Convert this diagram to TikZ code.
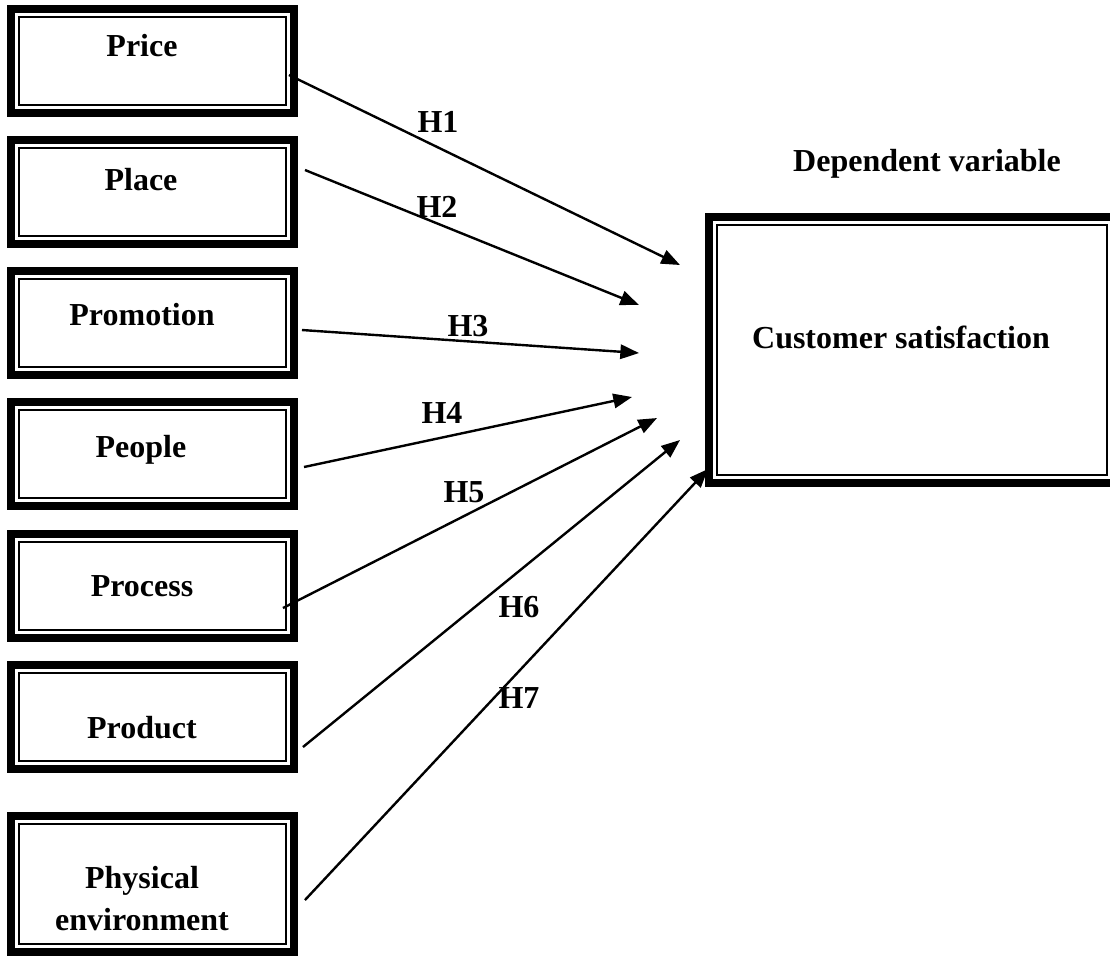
\documentclass[tikz,border=0pt]{standalone}
\usepackage{fontspec}
\setmainfont{Liberation Serif}
\usetikzlibrary{arrows.meta}

\begin{document}
\begin{tikzpicture}[
    x=0.375pt, y=-0.375pt,
    box/.style={draw, line width=3pt, minimum width=106.1pt, minimum height=39pt, inner sep=0pt,
                path picture={\draw[line width=0.75pt]
                    ([shift={(3pt,-3pt)}]path picture bounding box.north west) rectangle
                    ([shift={(-3pt,3pt)}]path picture bounding box.south east);}},
    lbl/.style={font=\fontsize{12}{15.75}\selectfont\bfseries, align=center, inner sep=0pt},
    arrow/.style={-{Triangle[length=7pt, width=5.4pt]}, line width=0.9pt}
]
    \useasboundingbox (0,0) rectangle (1110,960);
    \clip (0,0) rectangle (1110,960);

    % Independent variables
    \node[box] (price) at (152.5, 61)  {};
    \node[box] (place) at (152.5, 192) {};
    \node[box] (promo) at (152.5, 322.5) {};
    \node[box] (people) at (152.5, 454) {};
    \node[box] (process) at (152.5, 585.5) {};
    \node[box] (product) at (152.5, 717) {};
    \node[box, minimum height=51pt] (phys) at (152.5, 884) {};

    \node[lbl] (tprice) at (142, 46)   {Price};
    \node[lbl] (tplace) at (141, 180)  {Place};
    \node[lbl] (tpromo) at (142, 315)  {Promotion};
    \node[lbl] (tpeople) at (141, 450) {People};
    \node[lbl] (tprocess) at (142, 586) {Process};
    \node[lbl] (tproduct) at (142, 728) {Product};
    \node[lbl] (tphys) at (142, 899)   {Physical\\environment};

    % Dependent variable
    \node[box, minimum width=152.25pt, minimum height=99.75pt] (cs) at (912, 350) {};
    \node[lbl] (tcs) at (901, 337) {Customer satisfaction};
    \node[lbl] (dep) at (927, 164) {Dependent variable};

    % Arrow ends
    \coordinate (t1) at (680, 265);
    \coordinate (t2) at (639, 305);
    \coordinate (t3) at (639, 353);
    \coordinate (t4) at (632, 397);
    \coordinate (t5) at (657, 418);
    \coordinate (t6) at (680, 440);
    \coordinate (t7) at ([shift={(3,-18)}]cs.south west);

    % Hypotheses
    \draw[arrow] ([shift={(-9,14)}]price.east) -- (t1);
    \draw[arrow] ([shift={(7,-22)}]place.east) -- (t2);
    \draw[arrow] ([shift={(4,7.5)}]promo.east) -- (t3);
    \draw[arrow] ([shift={(6,13)}]people.east) -- (t4);
    \draw[arrow] ([shift={(-15,22.5)}]process.east) -- (t5);
    \draw[arrow] ([shift={(5,30)}]product.east) -- (t6);
    \draw[arrow] ([shift={(7,16)}]phys.east) -- (t7);

    \node[lbl] (h1) at (438, 122) {H1};
    \node[lbl] (h2) at (437, 207) {H2};
    \node[lbl] (h3) at (468, 326) {H3};
    \node[lbl] (h4) at (442, 413) {H4};
    \node[lbl] (h5) at (464, 492) {H5};
    \node[lbl] (h6) at (519, 607) {H6};
    \node[lbl] (h7) at (519, 698) {H7};
\end{tikzpicture}
\end{document}
